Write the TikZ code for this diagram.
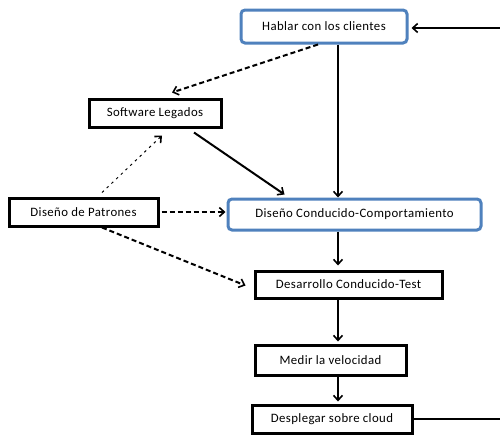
\documentclass[tikz,border=0pt]{standalone}
\usepackage{fontspec}
\setmainfont{Carlito}[LetterSpace=3]
\usetikzlibrary{arrows.meta}
\definecolor{boxblue}{RGB}{79,129,189}
\tikzset{
  every node/.style={font=\fontsize{12.8}{15}\selectfont, inner sep=0pt},
  blackbox/.style={draw=black, line width=3pt, fill=white},
  bluebox/.style={draw=boxblue, line width=3pt, rounded corners=4pt, fill=white},
  tip/.style={-{Straight Barb[length=5pt,width=9pt,line width=1.6pt]}},
  solidline/.style={tip, line width=2pt},
  dashline/.style={tip, line width=2pt, dash pattern=on 5pt off 3pt},
  dotline/.style={tip, line width=1pt, dash pattern=on 2.5pt off 4pt},
}
\begin{document}
\begin{tikzpicture}[x=1pt,y=1pt]
\useasboundingbox (0,0) rectangle (500,-434);
\node[bluebox, minimum width=166pt, minimum height=33pt] (hab) at (324,-26.5) {Hablar con los clientes};
\node[blackbox, minimum width=132pt, minimum height=28pt] (leg) at (155,-113) {Software Legados};
\node[blackbox, minimum width=149pt, minimum height=28pt] (pat) at (83.5,-212) {Diseño de Patrones};
\node[bluebox, minimum width=253pt, minimum height=31pt] (dcc) at (354.5,-214.5) {Diseño Conducido-Comportamiento};
\node[blackbox, minimum width=187pt, minimum height=27pt] (dct) at (348.5,-284.5) {Desarrollo Conducido-Test};
\node[blackbox, minimum width=151pt, minimum height=30pt] (med) at (330.5,-360) {Medir la velocidad};
\node[blackbox, minimum width=160pt, minimum height=28pt] (des) at (332,-419) {Desplegar sobre cloud};
\coordinate (sp) at (338,0);
\coordinate (rt) at (500,0);
% spine
\draw[solidline] (hab.south -| sp) -- (dcc.north -| sp);
\draw[solidline] (dcc.south -| sp) -- ([yshift=4pt]dct.north -| sp);
\draw[solidline] (dct.south -| sp) -- ([yshift=2pt]med.north -| sp);
\draw[solidline] (med.south -| sp) -- ([yshift=2pt]des.north -| sp);
% return loop
\draw[line width=2pt] (des.east) -- (des.east -| rt);
\draw[solidline, shorten >=3pt] ([yshift=-1.5pt]hab.east -| rt) -- ([yshift=-1.5pt]hab.east);
% other connectors
\draw[dashline] ([xshift=-6pt]hab.south) -- ([xshift=17pt, yshift=5pt]leg.north);
\draw[solidline] ([xshift=39pt, yshift=-4pt]leg.south) -- ([xshift=-70pt, yshift=3pt]dcc.north);
\draw[dotline] ([xshift=18.5pt, yshift=4pt]pat.north) -- ([xshift=7pt, yshift=-7pt]leg.south);
\draw[dashline] ([xshift=2pt]pat.east) -- ([xshift=-1pt]pat.east -| dcc.west);
\draw[dashline] ([xshift=18.5pt]pat.south) -- ([xshift=-8pt, yshift=-1pt]dct.west);
\end{tikzpicture}
\end{document}
